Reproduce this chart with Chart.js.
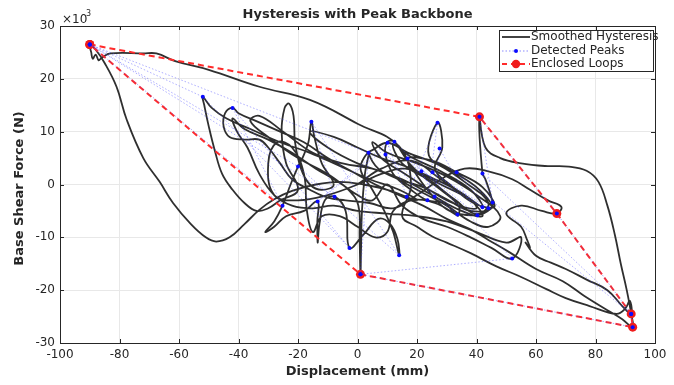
<!DOCTYPE html>
<html>
<head>
<meta charset="utf-8">
<script src="https://cdn.jsdelivr.net/npm/chart.js@4.4.0/dist/chart.umd.min.js"></script>
<style>
  html, body { margin: 0; padding: 0; background: #fff; }
  #c { display: block; }
</style>
</head>
<body>
<canvas id="c" width="674" height="385"></canvas>
<script>
// force in units of 10^3 N, displacement in mm
const hystPath = [
  [0,0],[8,3],[18,4.5],[28,1],[36,-2],[42,-4.2],[38,-1],[28,2.5],[18,5.2],[12,7.6],[15,4],[25,0.5],
  [33,-3],[40,-5.6],[44,-3.5],[36,0.5],[27,3.8],[17,6],[10.1,7.9],[5,6.5],[3.7,6],[7,3],[14,1],[22,-0.5],
  [30,-2.8],[38,-5],[45,-4.4],[41,-1],[32,2.5],[24,5.5],[27,11.7],[28.5,7],[26,3],[31,0],[39,-3.5],[46,-4.2],
  [42,-0.5],[33.3,2.3],[25,4.5],[16.8,4.9],[21,2],[28,-1],[34,-4],[33.6,-5.7],[29,-3.5],[23.5,-3],[18,-1],
  [12,2],[9.4,5.7],[10,8],[12.4,8.1],[15,6],[19,2.5],[25,-2],[31,-5],[40.3,-5.8],[45,-4.5],[45.4,-3.4],
  [43,1],[42,2.1],[41,12.8],
  [43,7],[48,5],[55,4],[63,3.5],[71,3.4],[77,2.6],[81,0.5],[84,-4],[86.5,-9.5],[88.5,-15],[90.5,-20],
  [92,-24.5],[92.5,-27],
  [89,-25.5],[84,-23.8],[76,-21],[69,-18.3],[60,-16],[51,-12.8],[44,-10.5],[38,-8.5],[30,-6.5],[22,-4],
  [14,-2],[6,0],[-2,2.5],[-10,5],[-18,8],[-26,10],[-34,12],[-40,13.5],[-42,14.5],[-44.5,13.5],[-45,11],
  [-43,9],[-38,8.5],[-33,8.5],[-30,7],[-26,4],[-22,1],[-16,-1],[-10,-2.5],[-4,-3],[4,-3.5],[12,-4.5],
  [20,-2],[28,1],[36,3],[44,2.5],[52,1],[58,-1],[64,-3],[68.5,-4.2],[67,-5.5],[62,-5],[55,-4],[50,-5.5],
  [55,-8],[57,-10.5],[58,-12],[56.5,-11],
  [60,-13.5],[65,-14.8],[70,-16],[77,-18],[84,-20],[89,-23],[92,-24.5],[91.5,-22],[90,-23.5],
  [87,-24.5],[78,-23],[70,-21.5],[63.5,-19.8],[55,-17.5],[46.7,-15.5],[38,-13],[30,-11],[25,-9.8],
  [20,-8],[15,-6],[18,0],[14,7.2],[0,11.5],[-16,16],[-33,18.5],[-50,21.7],[-61,23.3],[-67.6,24.8],
  [-72,24.8],[-83,24.8],[-86,24],[-87,23.5],[-88,24.6],[-89,23.8],[-89.5,25],[-90,26.5],
  [-88,25.5],[-85,23],[-81,18.5],[-77.6,12.3],[-72,5],[-66.5,0.5],[-62,-3.5],[-56,-7.5],[-51,-10],
  [-47.5,-10.8],[-43,-10],[-38,-7.5],[-33,-4.8],[-28,-2.8],[-22,-1.2],[-14,0],[-6,0.5],[2,0],[10,-1],
  [20,-3],[14,-1],[4,1],[-6,3.5],[-16,6],[-26,8],[-36,10.5],[-44,12.5],[-49,14.5],[-52,16.6],[-51.5,15],
  [-50,11],[-48,6.5],[-45.5,2],[-42,-1],[-38,-3.5],[-34,-5],[-30,-4.5],[-26,-3],[-20,-1],
  [-24,4],[-25.5,10],[-24.5,14.5],[-23,15.3],[-21.5,13],[-21,8],[-19,3],[-16,0],[-12,-1],[-8,0],
  [-12,4],[-14.5,9],[-15.5,11.9],[-16.5,8],[-18.5,5],[-20,3.4],[-22.5,0],[-25.2,-4],[-28,-7],[-31,-9],
  [-28,-8],[-24,-6],[-18,-5],[-13.4,-3.2],[-13.5,-7],[-13.4,-11],[-12.8,-7.5],[-11,-3],[-7.7,-2.3],
  [-4,-5],[-2.7,-12],[2,-9.5],[7,-6.5],[11,-7.5],[13.5,-10.5],[14,-13.4],[12,-9],[9,-5],[5,-1],[1,3],
  [3.7,6],[2.5,2],[1.5,-5],[1.2,-12],[1,-17],[0.7,-10],[0.3,-4],[-3,-1],[-8,1],[-14,3],[-22,6],
  [-30,8.5],[-38,10.5],[-42,12.5],[-40.5,10],[-37,7],[-33,2],[-28,-2],[-22,-4],[-15,-4.5],[-8,-4],
  [0,-5],[10,-5.5],[20,-6],[30,-7],[40,-9],[50,-11],[55,-10],[52,-14],[45,-12],[38,-10],[30,-8],
  [22,-6.5],[15,-4],[10,0],[5,-3],[0,-2],
  [-10,2],[-20,5],[-30,9],[-36,12],[-33,13],[-25,10],[-15,6],[-5,4],[5,3],[15,1],[25,-2],[35,-5],
  [42,-6],[38,-3],[28,0],[18,3],[8,5],[0,7],[-8,9],[-16,10],[-10,7],[0,4],[10,2],[20,-1],[30,-4],
  [38,-7],[44,-8],[48,-6],[40,-2],[30,1.5],[20,4],[10,6],[5,8],[8,5],[16,2],[24,-1],[32,-3.5],
  [40,-4.5],[36,-2],[26,1],[16,3],[8,2],[0,0],[-10,-2],[-20,-3],[-28,-2],[-30,4],[-27,8],[-22,7],
  [-18,2],[-17,-5],[-15,-9],[-12,-6],[-6,-6],[0,-8],[6,-10],[10,-9],[12,-5],[18,-3],[26,-3.5],[34,-6]
];

const peakX = [-90, -52, -2.7, -42, -25.2, -90, -20, 14, -15.5, -7.7, -90, 3.7, 1, 52, 12.4, -13.4, 10.1,
  16.5, 26.9, 23.5, 9.4, 33.6, 16.8, 40.3, 27.6, 25.9, 21.5, 42, 25.2, 44, 33.3, 92, 42, 45.4, 41, 67, 92,
  92.5, 1];
const peakY = [26.5, 16.6, -12, 14.5, -4, 26.5, 3.4, -13.4, 11.9, -2.3, 26.5, 6, -17, -14, 8.1, -3.2, 7.9,
  -2.3, 11.7, -3, 5.7, -5.7, 4.9, -5.8, 6.8, -2.3, 2.5, -4.3, 2.3, -4.5, 2.3, -24.5, 2.1, -3.4, 12.8, -5.5,
  -24.5, -27, -17];

const loopX = [-90, 41, 67, 92, 92.5, 1, -90];
const loopY = [26.5, 12.8, -5.5, -24.5, -27, -17, 26.5];

const FONT = '"DejaVu Sans", sans-serif';
const TXT = '#262626';

const zip = (xs, ys) => xs.map((x, i) => ({ x, y: ys[i] }));

const decor = {
  id: 'decor',
  afterDraw(chart) {
    const { ctx, chartArea: a, scales: { x, y } } = chart;
    ctx.save();
    // box + inward ticks
    ctx.strokeStyle = TXT;
    ctx.lineWidth = 1;
    ctx.strokeRect(Math.round(a.left) + 0.5, Math.round(a.top) + 0.5,
      Math.round(a.right - a.left), Math.round(a.bottom - a.top));
    ctx.beginPath();
    for (let v = -100; v <= 100; v += 20) {
      const px = Math.round(x.getPixelForValue(v)) + 0.5;
      ctx.moveTo(px, a.bottom); ctx.lineTo(px, a.bottom - 4);
      ctx.moveTo(px, a.top); ctx.lineTo(px, a.top + 4);
    }
    for (let v = -30; v <= 30; v += 10) {
      const py = Math.round(y.getPixelForValue(v)) + 0.5;
      ctx.moveTo(a.left, py); ctx.lineTo(a.left + 4, py);
      ctx.moveTo(a.right, py); ctx.lineTo(a.right - 4, py);
    }
    ctx.stroke();

    // title, axis labels, exponent
    ctx.fillStyle = TXT;
    ctx.textAlign = 'center';
    ctx.textBaseline = 'middle';
    ctx.font = 'bold 13px ' + FONT;
    ctx.fillText('Hysteresis with Peak Backbone', (a.left + a.right) / 2, 15);
    ctx.fillText('Displacement (mm)', (a.left + a.right) / 2, 372);
    ctx.save();
    ctx.translate(20, (a.top + a.bottom) / 2 + 4);
    ctx.rotate(-Math.PI / 2);
    ctx.fillText('Base Shear Force (N)', 0, 0);
    ctx.restore();

    ctx.textAlign = 'left';
    ctx.textBaseline = 'alphabetic';
    ctx.font = '12px ' + FONT;
    ctx.fillText('\u00d710', a.left + 2, 23);
    ctx.font = '8px ' + FONT;
    ctx.fillText('3', a.left + 26, 16);

    // legend
    const lx = 499.5, ly = 30.5, lw = 154, lh = 41;
    ctx.fillStyle = '#fff';
    ctx.fillRect(lx, ly, lw, lh);
    ctx.strokeStyle = TXT;
    ctx.strokeRect(lx, ly, lw, lh);
    const rows = [37, 51, 64];
    ctx.lineWidth = 1.6;
    ctx.strokeStyle = '#141414';
    ctx.beginPath(); ctx.moveTo(502, rows[0]); ctx.lineTo(530, rows[0]); ctx.stroke();
    ctx.lineWidth = 0.9;
    ctx.strokeStyle = 'rgba(70,70,255,0.7)';
    ctx.setLineDash([1.5, 2]);
    ctx.beginPath(); ctx.moveTo(502, rows[1]); ctx.lineTo(530, rows[1]); ctx.stroke();
    ctx.fillStyle = '#0a0aff';
    ctx.beginPath(); ctx.arc(516, rows[1], 2, 0, Math.PI * 2); ctx.fill();
    ctx.lineWidth = 2;
    ctx.strokeStyle = '#ff2b2b';
    ctx.setLineDash([5, 4]);
    ctx.beginPath(); ctx.moveTo(502, rows[2]); ctx.lineTo(530, rows[2]); ctx.stroke();
    ctx.setLineDash([]);
    ctx.fillStyle = '#f01c1c';
    ctx.beginPath(); ctx.arc(516, rows[2], 4.2, 0, Math.PI * 2); ctx.fill();
    ctx.fillStyle = TXT;
    ctx.font = '12px ' + FONT;
    ctx.textBaseline = 'middle';
    ctx.fillText('Smoothed Hysteresis', 531, rows[0]);
    ctx.fillText('Detected Peaks', 531, rows[1]);
    ctx.fillText('Enclosed Loops', 531, rows[2]);
    ctx.restore();
  }
};

new Chart(document.getElementById('c'), {
  type: 'scatter',
  data: {
    datasets: [
      {
        label: 'Smoothed Hysteresis',
        data: hystPath.map(([x, y]) => ({ x, y })),
        showLine: true,
        borderColor: 'rgba(18,18,18,0.88)',
        borderWidth: 1.8,
        pointRadius: 0,
        tension: 0.4,
        order: 3,
      },
      {
        label: 'Detected Peaks',
        data: zip(peakX, peakY),
        showLine: true,
        borderColor: 'rgba(70,70,255,0.55)',
        borderWidth: 0.8,
        borderDash: [1.5, 2],
        pointRadius: 2,
        pointBorderWidth: 0,
        pointBackgroundColor: '#0a0aff',
        order: 1,
      },
      {
        label: 'Enclosed Loops',
        data: zip(loopX, loopY),
        showLine: true,
        borderColor: '#ff2b2b',
        borderWidth: 2,
        borderDash: [6, 4],
        pointRadius: 4.5,
        pointBorderWidth: 0,
        pointBackgroundColor: '#f01c1c',
        order: 2,
      },
    ],
  },
  options: {
    responsive: false,
    animation: false,
    devicePixelRatio: 1,
    layout: { padding: { top: 26, right: 19, left: 0, bottom: 0 } },
    plugins: { legend: { display: false }, tooltip: { enabled: false } },
    scales: {
      x: {
        type: 'linear',
        min: -100,
        max: 100,
        ticks: { stepSize: 20, color: TXT, padding: 5, font: { family: FONT, size: 12 } },
        grid: { color: '#e8e8e8', drawTicks: false },
        border: { display: false },
        afterFit: s => { s.height = 42; },
      },
      y: {
        min: -30,
        max: 30,
        ticks: { stepSize: 10, color: TXT, padding: 5, font: { family: FONT, size: 12 } },
        grid: { color: '#e8e8e8', drawTicks: false },
        border: { display: false },
        afterFit: s => { s.width = 60; },
      },
    },
  },
  plugins: [decor],
});
</script>
</body>
</html>
